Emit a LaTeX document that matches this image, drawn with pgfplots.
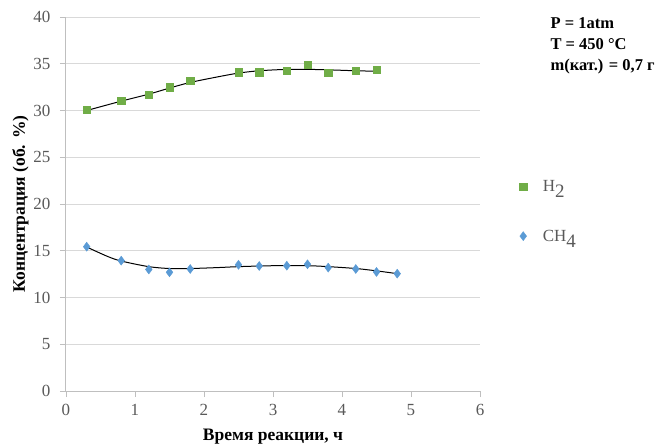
\documentclass[border=0pt]{standalone}
\usepackage{pgfplots}
\pgfplotsset{compat=1.18}
\usepackage{fontspec}
\setmainfont{Liberation Serif}
\definecolor{hgreen}{HTML}{70AD47}
\definecolor{cblue}{HTML}{5B9BD5}
\definecolor{tickgray}{HTML}{595959}
\definecolor{gridgray}{HTML}{D9D9D9}
\definecolor{axgray}{HTML}{BFBFBF}
\begin{document}
\begin{tikzpicture}
\begin{axis}[
  scale only axis,
  width=414bp, height=374bp,
  xmin=0, xmax=6, ymin=0, ymax=40,
  xtick={0,1,...,6}, ytick={0,5,...,40},
  axis x line=bottom, axis y line=left,
  axis line style={draw=axgray, line width=1bp, -},
  ymajorgrids, grid style={draw=gridgray, line width=0.8bp},
  tick style={draw=axgray, line width=0.8bp},
  major tick length=6bp,
  xtick align=outside, ytick align=outside,
  ticklabel style={font=\fontsize{17bp}{19bp}\selectfont, text=tickgray},
  yticklabel style={xshift=-6bp},
  xticklabel style={yshift=-4bp},
  /pgf/number format/assume math mode=true,
  xlabel={\textbf{Время реакции, ч}},
  ylabel={\textbf{Концентрация (об. \%)}},
  label style={font=\fontsize{17.5bp}{19bp}\selectfont},
  xlabel style={yshift=-6bp},
  ylabel style={yshift=-2bp},
  legend style={draw=none, fill=none, at={(1.088,0.575)}, anchor=north west,
    font=\fontsize{17bp}{19bp}\selectfont, text=tickgray, row sep=33bp, column sep=14bp},
  legend cell align=left,
  clip=false,
]
% trend lines
\addplot[black, line width=1bp, smooth, forget plot] coordinates {
(0.3,30.0) (0.8,31.0) (1.2,31.75) (1.5,32.4) (1.8,33.0) (2.2,33.6) (2.5,34.0) (2.8,34.25) (3.2,34.4) (3.5,34.4) (3.8,34.35) (4.2,34.25) (4.5,34.2)};
\addplot[black, line width=1bp, smooth, forget plot] coordinates {
(0.3,15.4) (0.6,14.4) (0.8,13.9) (1.2,13.3) (1.5,13.1) (1.8,13.1) (2.2,13.2) (2.5,13.3) (3.0,13.4) (3.5,13.4) (3.8,13.3) (4.2,13.1) (4.5,12.85) (4.8,12.55)};
\addplot[only marks, mark=square*, mark size=3.6bp, color=hgreen] coordinates {
(0.3,30.1) (0.8,31.05) (1.2,31.7) (1.5,32.5) (1.8,33.2) (2.5,34.1) (2.8,34.1) (3.2,34.25) (3.5,34.9) (3.8,34.07) (4.2,34.25) (4.5,34.4)};
\addlegendentry{H\textsubscript{\fontsize{19bp}{19bp}\selectfont 2}}
\addplot[only marks, mark=diamond*, mark size=4.5bp, color=cblue] coordinates {
(0.3,15.43) (0.8,13.94) (1.2,13.0) (1.5,12.7) (1.8,13.05) (2.5,13.5) (2.8,13.37) (3.2,13.4) (3.5,13.55) (3.8,13.2) (4.2,13.05) (4.5,12.73) (4.8,12.55)};
\addlegendentry{CH\textsubscript{\fontsize{19bp}{19bp}\selectfont 4}}
\node[anchor=north west, align=left, font=\bfseries\fontsize{16.5bp}{21bp}\selectfont, inner sep=0pt] at (rel axis cs:1.17,1.0) {P = 1atm\\T = 450 °C\\m(кат.) = 0,7 г};
\end{axis}
\path[use as bounding box] (-66bp,-55bp) rectangle (600bp,391bp);
\end{tikzpicture}
\end{document}
